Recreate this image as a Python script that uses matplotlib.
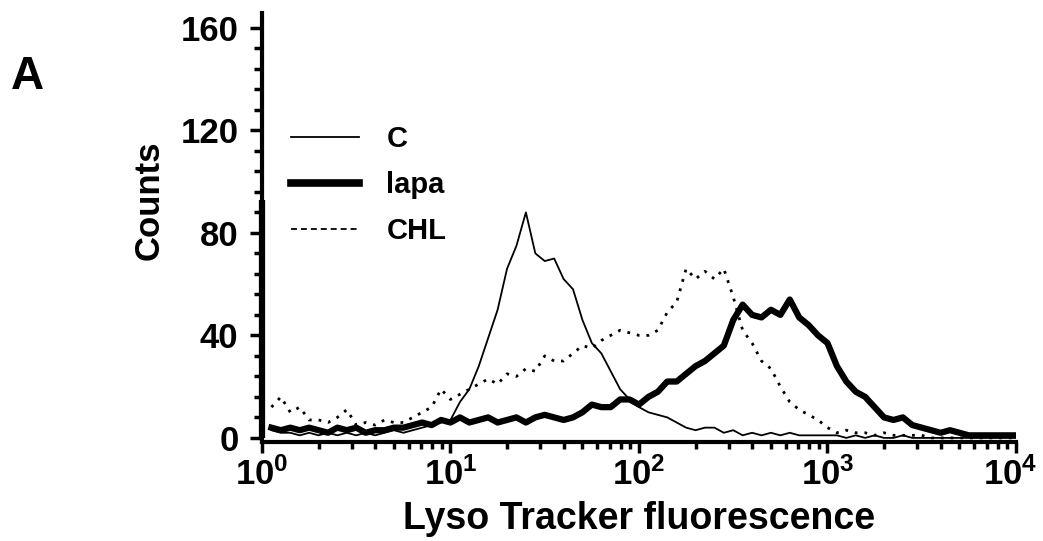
import numpy as np
import matplotlib
matplotlib.use('Agg')
import matplotlib.pyplot as plt
from matplotlib.lines import Line2D
from matplotlib.transforms import ScaledTranslation

plt.rcParams['font.family'] = 'Liberation Sans'
plt.rcParams['font.weight'] = 'bold'
plt.rcParams['mathtext.fontset'] = 'custom'
plt.rcParams['mathtext.rm'] = 'Liberation Sans:bold'
plt.rcParams['mathtext.bf'] = 'Liberation Sans:bold'
plt.rcParams['mathtext.it'] = 'Liberation Sans:bold'

# channel positions in decades (0 .. 4, step 0.05)
log_pos = np.linspace(0, 4, 81)
fluor = 10 ** log_pos

counts_c = [90, 3, 2, 2, 1, 2, 1, 2, 1, 2,
            1, 2, 1, 2, 3, 2, 3, 4, 5, 6,
            7, 14, 19, 28, 39, 50, 66, 75, 88, 72,
            69, 70, 62, 58, 46, 37, 33, 26, 19, 15,
            12, 10, 9, 8, 6, 4, 3, 4, 4, 2,
            3, 1, 2, 1, 2, 1, 2, 1, 1, 1,
            1, 1, 0, 1, 0, 1, 0, 0, 1, 0,
            0, 0, 0, 0, 0, 0, 0, 0, 0, 0, 0]

counts_lapa = [93, 4, 3, 4, 3, 4, 3, 2, 4, 3,
               4, 2, 3, 3, 4, 4, 5, 6, 5, 7,
               6, 8, 6, 7, 8, 6, 7, 8, 6, 8,
               9, 8, 7, 8, 10, 13, 12, 12, 15, 15,
               13, 16, 18, 22, 22, 25, 28, 30, 33, 36,
               46, 52, 48, 47, 50, 48, 54, 47, 44, 40,
               37, 28, 22, 18, 16, 12, 8, 7, 8, 5,
               4, 3, 2, 3, 2, 1, 1, 1, 1, 1, 1]

counts_chl = [15, 12, 16, 10, 12, 7, 7, 6, 8, 11,
              5, 6, 5, 7, 6, 6, 8, 10, 12, 19,
              15, 17, 19, 21, 23, 21, 25, 24, 27, 26,
              32, 30, 30, 33, 36, 35, 38, 40, 42, 41,
              40, 40, 42, 49, 53, 66, 62, 65, 62, 66,
              55, 42, 37, 30, 27, 20, 14, 11, 9, 7,
              4, 2, 3, 2, 2, 1, 2, 1, 1, 1,
              1, 0, 0, 0, 0, 0, 0, 0, 0, 0, 0]

labels = ['C', 'lapa', 'CHL']

fig = plt.figure(figsize=(10.43, 5.41), dpi=100)
ax = fig.add_axes([0.2512, 0.183, 0.7229, 0.793])

# first channel spike drawn as a bar on the axis
ax.vlines(fluor[0], 0, counts_lapa[0], color='black', lw=4.5, clip_on=False)
ax.vlines(fluor[0], 0, counts_c[0], color='black', lw=1.3, clip_on=False)

ax.plot(fluor[1:], counts_c[1:], color='black', lw=1.3)
ax.plot(fluor[1:], counts_lapa[1:], color='black', lw=4.5)
ax.plot(fluor[1:], counts_chl[1:], color='black', lw=2, linestyle=(0, (1, 2.5)))

ax.set_xscale('log')
ax.set_xlim(1, 1e4)
ax.set_ylim(-1.6, 165.8)
ax.set_yticks([0, 40, 80, 120, 160])
ax.set_yticks(np.arange(0, 161, 8), minor=True)

for s in ['top', 'right']:
    ax.spines[s].set_visible(False)
for s in ['left', 'bottom']:
    ax.spines[s].set_linewidth(3)

ax.tick_params(axis='y', which='major', direction='out', length=9, width=2.5,
               labelsize=25, pad=8)
ax.tick_params(axis='y', which='minor', direction='out', length=6, width=2.5)
ax.tick_params(axis='x', which='major', direction='out', length=8, width=2.5,
               labelsize=25, pad=3)
ax.tick_params(axis='x', which='minor', direction='out', length=5, width=2.5)

ax.set_xlabel('Lyso Tracker fluorescence', fontsize=27, fontweight='bold', labelpad=7)
ax.set_ylabel('Counts', fontsize=25, fontweight='bold')
ax.yaxis.set_label_coords(-0.128, 0.564)

fig.canvas.draw()
for lab in ax.get_xticklabels():
    if lab.get_position()[0] >= 1e4:
        lab.set_transform(lab.get_transform() + ScaledTranslation(-4 / 72, 0, fig.dpi_scale_trans))

handles = [Line2D([], [], color='black', lw=1.3),
           Line2D([], [], color='black', lw=5.5),
           Line2D([], [], color='black', lw=1.3, linestyle=(0, (3.3, 2.2)))]
ax.legend(handles, labels, loc='upper left', bbox_to_anchor=(0.004, 0.80),
          frameon=False, fontsize=21, handlelength=2.33, handletextpad=0.93,
          labelspacing=0.62)

fig.text(0.026, 0.857, 'A', fontsize=33, fontweight='bold', va='center', ha='center')

fig.savefig('out.png', dpi=100)
